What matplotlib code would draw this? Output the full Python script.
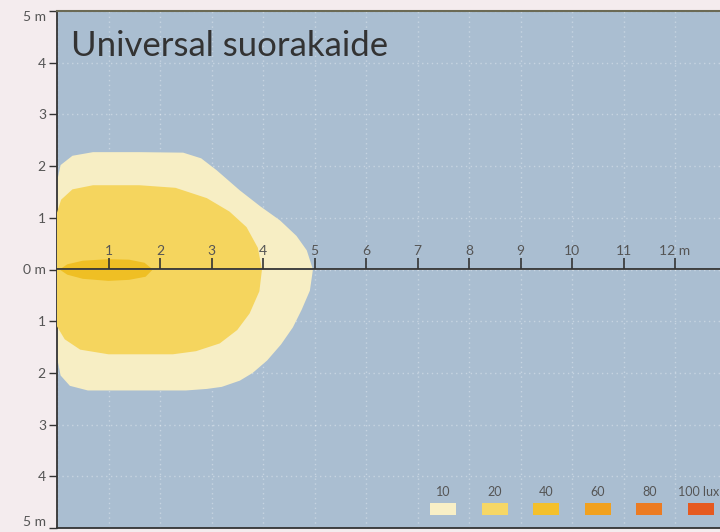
import numpy as np
import matplotlib
matplotlib.use("Agg")
import matplotlib.pyplot as plt
from matplotlib.patches import Polygon, Rectangle

#%% Isolux contours (x along beam, y across, in m)
lux10_x = [0, 0.07, 0.3, 0.7, 1.6, 2.45, 2.8, 3.1, 3.55, 3.95, 4.33, 4.65, 4.85, 4.97,
           4.91, 4.75, 4.58, 4.35, 4.08, 3.8, 3.55, 3.2, 2.91, 2.5, 0.6, 0.25, 0.07, 0]
lux10_y = [1.7, 2.02, 2.2, 2.27, 2.27, 2.26, 2.15, 1.92, 1.53, 1.22, 0.95, 0.65, 0.37, 0,
           -0.41, -0.78, -1.12, -1.45, -1.76, -2.0, -2.15, -2.27, -2.31, -2.34, -2.34, -2.25, -2.05, -1.7]

lux20_x = [0, 0.08, 0.3, 0.7, 1.6, 2.3, 2.91, 3.35, 3.68, 3.9, 3.98,
           3.93, 3.74, 3.5, 3.16, 2.7, 2.25, 1.0, 0.45, 0.15, 0]
lux20_y = [1.1, 1.35, 1.55, 1.63, 1.63, 1.58, 1.38, 1.12, 0.82, 0.42, 0,
           -0.42, -0.85, -1.17, -1.43, -1.58, -1.64, -1.64, -1.55, -1.35, -1.1]

lux40_x = [0.05, 0.2, 0.5, 1.0, 1.4, 1.7, 1.86, 1.72, 1.4, 1.0, 0.5, 0.2]
lux40_y = [0, 0.1, 0.17, 0.2, 0.19, 0.13, 0, -0.14, -0.2, -0.22, -0.18, -0.1]

# legend
legend_labels = ["10", "20", "40", "60", "80", "100 lux"]
legend_colors = ["#f8efc6", "#f6d766", "#f4c02c", "#f1a11f", "#ec7b22", "#e65a20"]
legend_x = [7.5, 8.5, 9.5, 10.5, 11.5, 12.5]

x_ticks = list(range(1, 13))
x_labels = [str(t) for t in x_ticks[:-1]] + ["12 m"]
y_ticks = [5, 4, 3, 2, 1, 0, -1, -2, -3, -4, -5]
y_labels = ["5 m", "4", "3", "2", "1", "0 m", "1", "2", "3", "4", "5 m"]

bg = "#aabed1"
plt.rcParams['font.family'] = ['Lato', 'DejaVu Sans']

#%% Plot
fig = plt.figure(figsize=(7.2, 5.32), dpi=100, facecolor="#f4ecee")
ax = fig.add_axes([57/720, 4/532, 1 - 57/720, 517/532])
ax.set_facecolor(bg)
ax.set_xlim(0, 663/51.5)
ax.set_ylim(-5, 5)

ax.set_xticks(range(0, 13), minor=False)
ax.set_yticks(y_ticks, y_labels)
ax.grid(True, color="white", ls=(0, (1, 2.5)), lw=1.0, alpha=0.35)
ax.tick_params(axis="x", bottom=False, labelbottom=False)
ax.tick_params(axis="y", direction="out", length=6, width=1, colors="#333333",
               labelcolor="#555555", labelsize=10, pad=2)
ylabs = ax.get_yticklabels()
ylabs[0].set_va("top")
ylabs[-1].set_va("bottom")
for s in ["left", "bottom"]:
    ax.spines[s].set_color("#333333")
    ax.spines[s].set_linewidth(1.3)
ax.spines["top"].set_color("#6b6a55")
ax.spines["top"].set_linewidth(1.5)
ax.spines["right"].set_visible(False)

ax.add_patch(Polygon(np.column_stack([lux10_x, lux10_y]), closed=True, fc="#f7eec4", ec="none", zorder=2))
ax.add_patch(Polygon(np.column_stack([lux20_x, lux20_y]), closed=True, fc="#f5d55e", ec="none", zorder=3))
ax.add_patch(Polygon(np.column_stack([lux40_x, lux40_y]), closed=True, fc="#efbf24", ec="none", zorder=4))

# beam axis with metre ticks
sec = ax.secondary_xaxis(0.5)
sec.set_xticks(x_ticks, x_labels)
sec.tick_params(direction="out", length=8, width=1.2, colors="#333333",
                labelcolor="#555555", labelsize=10, pad=1)
sec.spines["top"].set_color("#333333")
sec.spines["top"].set_linewidth(1.3)
sec.spines["bottom"].set_visible(False)
sec.set_zorder(5)

ax.text(0.28, 4.33, "Universal suorakaide", fontsize=25, color="#333333", va="center", ha="left", zorder=6)

for lx, lab, col in zip(legend_x, legend_labels, legend_colors):
    ax.add_patch(Rectangle((lx - 0.25, -4.75), 0.5, 0.24, fc=col, ec="none", zorder=6))
    if lab.endswith("lux"):
        ax.text(lx - 0.45, -4.3, lab, ha="left", va="center", fontsize=9, color="#555555")
    else:
        ax.text(lx, -4.3, lab, ha="center", va="center", fontsize=9, color="#555555")

fig.savefig("out.png", dpi=100, facecolor=fig.get_facecolor())
